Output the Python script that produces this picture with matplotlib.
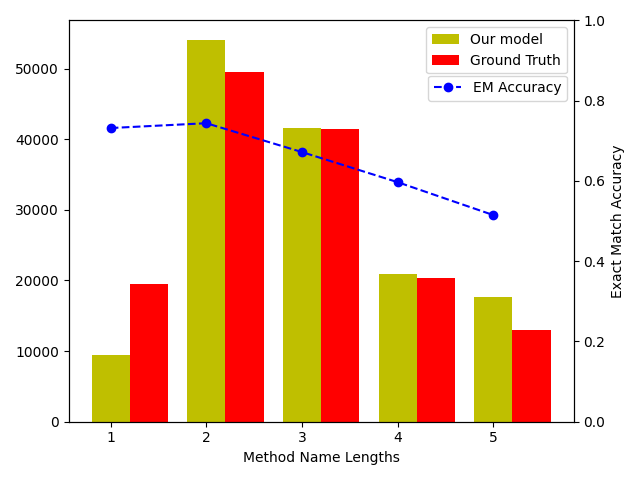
import matplotlib
matplotlib.use("Agg")
import matplotlib.pyplot as plt
import numpy as np

lengths = [1, 2, 3, 4, 5]
our_model = [9500, 54100, 41650, 20950, 17700]
ground_truth = [19550, 49550, 41500, 20400, 13050]
em_accuracy = [0.732, 0.744, 0.672, 0.597, 0.515]

x = np.array(lengths)
fig, ax = plt.subplots(figsize=(6.4, 4.8), dpi=100)
ax.bar(x, our_model, 0.4, color='y', label='Our model')
ax.bar(x + 0.4, ground_truth, 0.4, color='r', label='Ground Truth')
ax.set_xticks(x)
ax.set_xlabel('Method Name Lengths')
ax.legend(loc='upper right')

ax2 = ax.twinx()
ax2.plot(x, em_accuracy, 'b--o', label='EM Accuracy')
ax2.set_ylim(0, 1.0)
ax2.set_ylabel('Exact Match Accuracy')
ax2.legend(loc='upper right', bbox_to_anchor=(1, 0.88))

fig.tight_layout()
fig.savefig('out.png')
